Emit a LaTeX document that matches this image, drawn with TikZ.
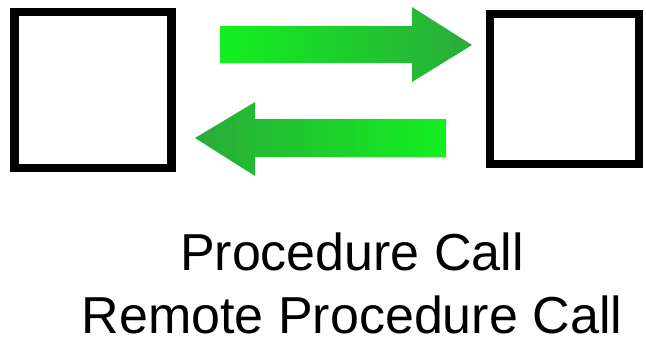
\documentclass[tikz,border=0pt]{standalone}
\usepackage{fontspec}
\setmainfont{Liberation Sans}
\definecolor{gbright}{RGB}{18,240,32}
\definecolor{gdark}{RGB}{43,170,58}
\begin{document}
\begin{tikzpicture}[x=1pt,y=-1pt,
  box/.style={draw=black,line width=8.5pt,minimum width=0pt,inner sep=0pt},
  lbl/.style={font=\fontsize{52}{62}\selectfont,anchor=base,inner sep=0pt}]
\useasboundingbox (0,0) rectangle (646,341);
% boxes
\node[box,minimum width=157pt,minimum height=156pt] (client) at (93,90) {};
\node[box,minimum width=149pt,minimum height=150pt] (server) at (564.5,89) {};
% top arrow (to the right)
\shade[left color=gbright,right color=gdark]
  (220,26) -- (412,26) -- (412,7) -- (472,45) -- (412,82) -- (412,63) -- (220,63) -- cycle;
% bottom arrow (to the left)
\shade[left color=gdark,right color=gbright]
  (446,119) -- (255,119) -- (255,102) -- (195,138) -- (255,176) -- (255,157) -- (446,157) -- cycle;
% labels
\node[lbl] (pc) at (352,270) {Procedure Call};
\node[lbl] (rpc) at (352,333) {Remote Procedure Call};
\end{tikzpicture}
\end{document}
